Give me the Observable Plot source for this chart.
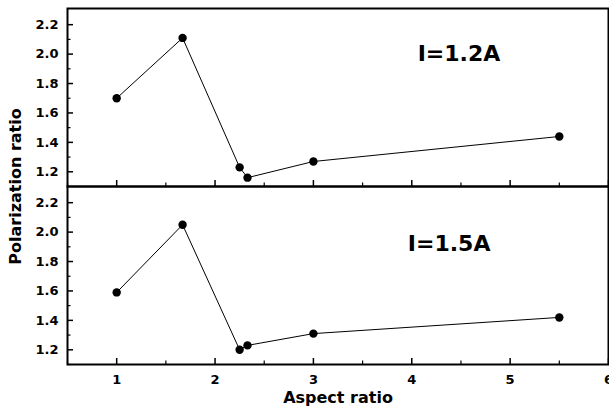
<!DOCTYPE html>
<html>
<head>
<meta charset="utf-8">
<script src="https://cdn.jsdelivr.net/npm/d3@7"></script>
<script src="https://cdn.jsdelivr.net/npm/@observablehq/plot@0.6"></script>
<style>
  body { margin: 0; background: #fff; }
  #chart svg { display: block; }
</style>
</head>
<body>
<div id="chart"></div>
<script>
const aspect = [1, 1.67, 2.25, 2.33, 3, 5.5];
const ratio12 = [1.70, 2.11, 1.23, 1.16, 1.27, 1.44];
const ratio15 = [1.59, 2.05, 1.20, 1.23, 1.31, 1.42];
const currents = ["I=1.2A", "I=1.5A"];
const labelPos = [{x: 4.48, y: 2.0}, {x: 4.38, y: 1.92}];
const yMajor = [1.2, 1.4, 1.6, 1.8, 2.0, 2.2];
const yMinor = [1.1, 1.3, 1.5, 1.7, 1.9, 2.1, 2.3];
const xMajor = [1, 2, 3, 4, 5, 6];
const xMinor = [0.5, 1.5, 2.5, 3.5, 4.5, 5.5];

const rows = [];
aspect.forEach((a, i) => rows.push({panel: currents[0], x: a, y: ratio12[i]}));
aspect.forEach((a, i) => rows.push({panel: currents[1], x: a, y: ratio15[i]}));
const labels = currents.map((c, i) => ({panel: c, x: labelPos[i].x, y: labelPos[i].y, text: c}));

const W = 609, H = 409, ML = 67, MR = 1, MT = 8, MB = 45;
const facetH = (H - MT - MB) / currents.length;
const facetW = W - ML - MR;

const chart = Plot.plot({
  width: W,
  height: H,
  marginLeft: ML,
  marginRight: MR,
  marginTop: MT,
  marginBottom: MB,
  style: {fontFamily: "DejaVu Sans", fontWeight: "bold", fontSize: "13px", color: "#000", background: "#fff"},
  x: {domain: [0.5, 6]},
  y: {domain: [1.1, 2.31]},
  fy: {domain: currents, padding: 0, axis: null, label: null},
  facet: {data: rows, y: "panel"},
  marks: [
    Plot.line(rows, {x: "x", y: "y", fy: "panel", stroke: "#000", strokeWidth: 1}),
    Plot.dot(rows, {x: "x", y: "y", fy: "panel", fill: "#000", r: 4.2}),
    Plot.text(labels, {x: "x", y: "y", fy: "panel", text: "text", fontSize: 22, fontWeight: "bold", fill: "#000"}),
    // inward ticks
    Plot.tickY(yMajor, {y: d => d, stroke: "#000", strokeWidth: 1.5, insetRight: facetW - 6}),
    Plot.tickY(yMinor.filter(v => v < 2.3), {y: d => d, stroke: "#000", strokeWidth: 1.2, insetRight: facetW - 3.5}),
    Plot.tickX(xMajor, {x: d => d, stroke: "#000", strokeWidth: 1.5, insetTop: facetH - 6}),
    Plot.tickX(xMinor, {x: d => d, stroke: "#000", strokeWidth: 1.2, insetTop: facetH - 3.5}),
    // tick labels
    Plot.axisY(yMajor, {anchor: "left", tickSize: 0, tickPadding: 9, label: null, fontSize: 13}),
    Plot.axisY({anchor: "left", tickSize: 0, ticks: [], text: null, label: "Polarization ratio", labelArrow: "none", labelAnchor: "center", labelOffset: 58, fontSize: 16}),
    Plot.axisX(xMajor, {anchor: "bottom", tickSize: 0, tickPadding: 10, label: null, fontSize: 13}),
    Plot.axisX({anchor: "bottom", tickSize: 0, ticks: [], text: null, label: "Aspect ratio", labelArrow: "none", labelAnchor: "center", labelOffset: 38, fontSize: 16}),
    Plot.frame({stroke: "#000", strokeWidth: 2})
  ]
});
document.getElementById("chart").appendChild(chart);
</script>
</body>
</html>
